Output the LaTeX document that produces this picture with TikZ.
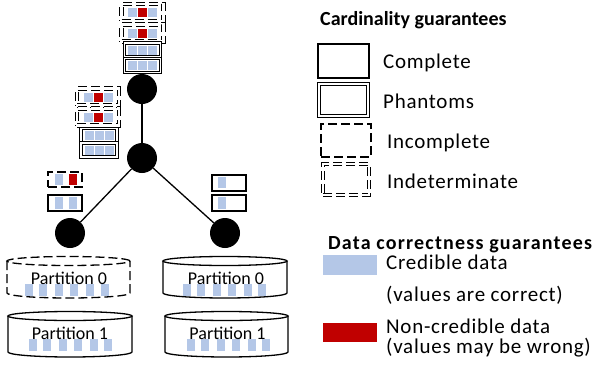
\documentclass[tikz,border=0pt]{standalone}
\usepackage{fontspec}
\setmainfont{Carlito}
\definecolor{cellblue}{HTML}{B4C7E7}
\definecolor{cellred}{HTML}{C00000}
\newcommand{\dcell}[5]{\fill[#1] (#2,#3) rectangle ++(#4,#5);}
\begin{document}
\begin{tikzpicture}[x=1pt,y=-1pt,
  dot/.style={circle, fill=black, minimum size=30pt, inner sep=0pt},
  link/.style={line width=1.3pt},
  complete/.style={draw, line width=1.2pt, rectangle, inner sep=0pt},
  phantom/.style={draw, line width=1pt, double, double distance=1.8pt, rectangle, inner sep=0pt},
  dashpat/.style={dash pattern=on 9pt off 4pt},
  incomplete/.style={draw, line width=1.2pt, dashpat, rectangle, inner sep=0pt},
  indet/.style={draw, line width=1.2pt, dashpat, double, double distance=2.4pt, rectangle, inner sep=0pt},
  cyl/.style={line width=1.3pt},
  lbl/.style={anchor=base west, inner sep=0pt, font=\fontsize{21}{24}\selectfont\addfontfeature{LetterSpace=3.5}},
  ttl/.style={anchor=base west, inner sep=0pt, font=\fontsize{20}{24}\selectfont\bfseries},
  plbl/.style={anchor=base, inner sep=0pt, font=\fontsize{18}{22}\selectfont},
]
\useasboundingbox (0,0) rectangle (602,370);

% ---------- tree ----------
\node[dot] (ntop) at (142,89) {};
\node[dot] (nmid) at (142,158) {};
\node[dot] (nleft) at (70,233) {};
\node[dot] (nright) at (225,233) {};
\draw[link] (ntop) -- (nmid);
\draw[link] (nmid) -- (nleft);
\draw[link] (nmid) -- (nright);

% ---------- top stack ----------
\node[indet, minimum width=42pt, minimum height=17pt] (t1) at (142.5,12.5) {};
\node[indet, minimum width=42pt, minimum height=17pt] (t2) at (142.5,33) {};
\node[phantom, minimum width=36pt, minimum height=14pt] (t3) at (142.5,50) {};
\node[phantom, minimum width=36pt, minimum height=14pt] (t4) at (142.5,65.5) {};
\foreach \cy/\mc in {12.5/cellred,33/cellred,50/cellblue,65.5/cellblue}{
  \dcell{cellblue}{128}{\cy-4.5}{9}{9}
  \dcell{\mc}{138}{\cy-4.5}{9}{9}
  \dcell{cellblue}{148}{\cy-4.5}{9}{9}
}

% ---------- middle-left stack ----------
\node[indet, minimum width=42pt, minimum height=17pt] (m1) at (98,97) {};
\node[indet, minimum width=42pt, minimum height=17pt] (m2) at (98,117) {};
\node[phantom, minimum width=36pt, minimum height=14pt] (m3) at (99,135.5) {};
\node[phantom, minimum width=36pt, minimum height=14pt] (m4) at (99,150) {};
\foreach \cy/\mc/\cx in {97/cellred/98,117/cellred/98,135.5/cellblue/99,150/cellblue/99}{
  \dcell{cellblue}{\cx-14.5}{\cy-4.5}{9}{9}
  \dcell{\mc}{\cx-4.5}{\cy-4.5}{9}{9}
  \dcell{cellblue}{\cx+5.5}{\cy-4.5}{9}{9}
}

% ---------- lower-left stack ----------
\node[incomplete, minimum width=34pt, minimum height=15pt] (l1) at (65,179.5) {};
\node[complete, minimum width=34pt, minimum height=16pt] (l2) at (65,203) {};
\dcell{cellblue}{55}{174}{8}{11}
\dcell{cellred}{69}{174}{8}{11}
\dcell{cellblue}{55}{197}{8}{12}
\dcell{cellblue}{69}{197}{8}{12}

% ---------- right stack ----------
\node[complete, minimum width=34pt, minimum height=16pt] (r1) at (229,183) {};
\node[complete, minimum width=34pt, minimum height=16pt] (r2) at (229,203) {};
\dcell{cellblue}{218}{177}{8}{11}
\dcell{cellblue}{218}{197}{8}{12}

% ---------- partitions ----------
\draw[cyl,dashpat] (7,261) -- (7,293) arc[start angle=180,end angle=360,x radius=61.5pt,y radius=5pt] -- (130,261);
\draw[cyl,dashpat] (68.5,261) ellipse [x radius=61.5pt, y radius=4.5pt];
\draw[cyl] (8,316) -- (8,352) arc[start angle=180,end angle=360,x radius=62pt,y radius=5pt] -- (132,316);
\draw[cyl] (70,316) ellipse [x radius=62pt, y radius=4.5pt];
\draw[cyl] (163,261) -- (163,293) arc[start angle=180,end angle=360,x radius=62pt,y radius=5pt] -- (287,261);
\draw[cyl] (225,261) ellipse [x radius=62pt, y radius=4.5pt];
\draw[cyl] (165,316) -- (165,352) arc[start angle=180,end angle=360,x radius=61.5pt,y radius=5pt] -- (288,316);
\draw[cyl] (226.5,316) ellipse [x radius=61.5pt, y radius=4.5pt];

\foreach \x in {25,39,55,70,86,101}{\dcell{cellblue}{\x}{284}{8}{12}}
\foreach \x in {29,43,59,74,90,104}{\dcell{cellblue}{\x}{339}{8}{12}}
\foreach \x in {183,197,213,228,244,258}{\dcell{cellblue}{\x}{284}{8}{12}}
\foreach \x in {187,201,217,232,248,262}{\dcell{cellblue}{\x}{339}{8}{12}}

\node[plbl] (p0l) at (69,284) {Partition 0};
\node[plbl] (p1l) at (70,339) {Partition 1};
\node[plbl] (p0r) at (226,284) {Partition 0};
\node[plbl] (p1r) at (227.5,339) {Partition 1};

% ---------- legend: cardinality ----------
\node[ttl] (cardt) at (320,25) {Cardinality guarantees};
\node[complete, minimum width=51pt, minimum height=34pt] (lgc) at (343.5,61) {};
\node[phantom, minimum width=49pt, minimum height=32pt] (lgp) at (343.5,100) {};
\node[incomplete, minimum width=50pt, minimum height=33pt] (lgi) at (346,140.5) {};
\node[indet, minimum width=46pt, minimum height=31pt] (lgd) at (346,179.5) {};
\node[lbl] (tc) at (383,68) {Complete};
\node[lbl] (tp) at (383,108) {Phantoms};
\node[lbl] (ti) at (387,148) {Incomplete};
\node[lbl] (td) at (387,188) {Indeterminate};

% ---------- legend: correctness ----------
\node[ttl, font=\fontsize{20}{24}\selectfont\bfseries\addfontfeature{LetterSpace=6}] (datat) at (328,249) {Data correctness guarantees};
\node[fill=cellblue, minimum width=54pt, minimum height=20pt, inner sep=0pt] (lgb) at (350,265) {};
\node[fill=cellred, minimum width=54pt, minimum height=19pt, inner sep=0pt] (lgr) at (350,332.5) {};
\node[lbl] (tcr) at (386,269) {Credible data};
\node[lbl] (tcr2) at (386,301) {(values are correct)};
\node[lbl] (tnc) at (386,333) {Non-credible data};
\node[lbl] (tnc2) at (386,353) {(values may be wrong)};
\end{tikzpicture}
\end{document}
